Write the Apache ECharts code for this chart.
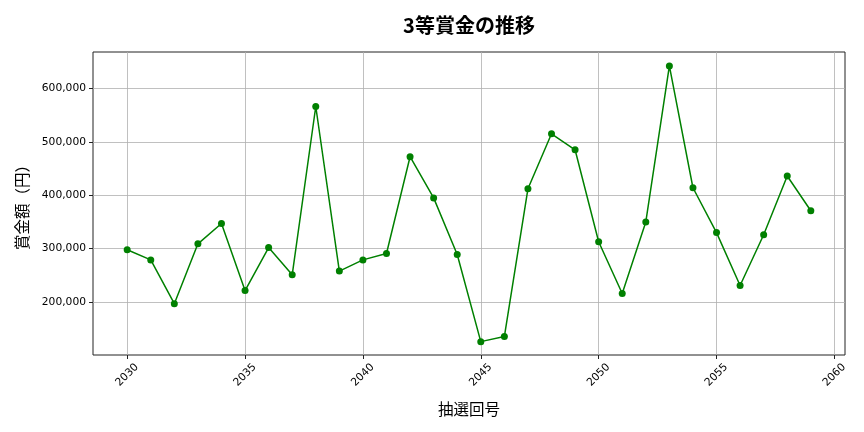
<!DOCTYPE html>
<html>
<head>
<meta charset="utf-8">
<script src="https://cdn.jsdelivr.net/npm/echarts@6/dist/echarts.min.js"></script>
<style>
  html, body { margin: 0; padding: 0; background: #fff; }
  #chart { width: 864px; height: 432px; }
</style>
</head>
<body>
<div id="chart"></div>
<script>
// 抽選回号
var draws = [2030, 2031, 2032, 2033, 2034, 2035, 2036, 2037, 2038, 2039,
             2040, 2041, 2042, 2043, 2044, 2045, 2046, 2047, 2048, 2049,
             2050, 2051, 2052, 2053, 2054, 2055, 2056, 2057, 2058, 2059];
// 3等賞金（円）
var prizes = [298000, 279000, 197000, 309000, 347000, 221500, 302000, 251000, 566000, 258000,
              279000, 291000, 472000, 395000, 289000, 126000, 135500, 412000, 515000, 485000,
              313000, 216000, 350000, 642000, 414000, 330000, 231000, 326000, 436000, 371000];
var xTicks = [2030, 2035, 2040, 2045, 2050, 2055, 2060];
var yTicks = [200000, 300000, 400000, 500000, 600000];

var cjk = '"Noto Sans CJK JP", "DejaVu Sans", sans-serif';
var num = '"DejaVu Sans", sans-serif';

var points = [];
for (var i = 0; i < draws.length; i++) {
	points.push([draws[i], prizes[i]]);
}

var chart = echarts.init(document.getElementById('chart'));
var option = {
	animation: false,
	title: {
		text: '3等賞金の推移',
		left: 464,
		textAlign: 'center',
		top: 10,
		textStyle: { fontFamily: cjk, fontSize: 20, fontWeight: 'bold', color: '#000' }
	},
	grid: {
		left: 93, right: 19, top: 52, bottom: 77,
		show: true, borderColor: '#222', borderWidth: 1, backgroundColor: '#fff'
	},
	xAxis: {
		type: 'value',
		min: 2028.55,
		max: 2060.45,
		name: '抽選回号',
		nameLocation: 'middle',
		nameGap: 46,
		nameTextStyle: { fontFamily: cjk, fontSize: 15.5, color: '#000' },
		axisLine: { show: false },
		axisTick: { show: true, length: 4, lineStyle: { color: '#222' }, customValues: xTicks },
		axisLabel: {
			customValues: xTicks,
			rotate: 45,
			align: 'center',
			verticalAlign: 'middle',
			margin: 20,
			fontFamily: num, fontSize: 10.7, color: '#000',
			formatter: function (v) { return String(v); }
		},
		splitLine: { show: true, lineStyle: { color: '#b0b0b0', width: 0.8 } }
	},
	yAxis: {
		type: 'value',
		min: 101000,
		max: 668000,
		name: '賞金額（円）',
		nameLocation: 'middle',
		nameGap: 63,
		nameRotate: 90,
		nameTextStyle: { fontFamily: cjk, fontSize: 15.5, color: '#000' },
		axisLine: { show: false },
		axisTick: { show: true, length: 4, lineStyle: { color: '#222' }, customValues: yTicks },
		axisLabel: {
			customValues: yTicks,
			margin: 7,
			fontFamily: num, fontSize: 10.7, color: '#000',
			formatter: function (v) { return v.toLocaleString('en-US'); }
		},
		splitLine: { show: true, lineStyle: { color: '#b0b0b0', width: 0.8 } }
	},
	series: [{
		type: 'line',
		data: points,
		symbol: 'circle',
		symbolSize: 7,
		lineStyle: { color: '#008000', width: 1.5 },
		itemStyle: { color: '#008000' }
	}]
};
chart.setOption(option);
</script>
</body>
</html>
